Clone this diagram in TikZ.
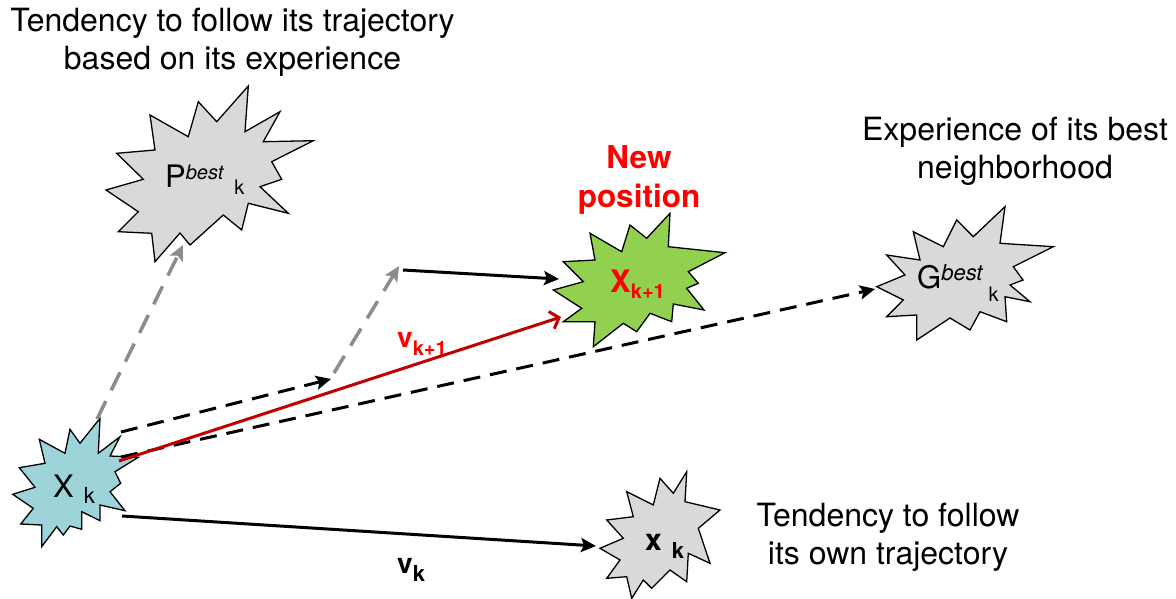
\documentclass[tikz,border=0pt]{standalone}
\usepackage{fontspec}
\setmainfont{TeX Gyre Heros}
\usetikzlibrary{arrows.meta}
\definecolor{sealgray}{HTML}{D9D9D9}
\definecolor{sealcyan}{HTML}{9DD4DA}
\definecolor{sealgreen}{HTML}{92D050}
\definecolor{darkred}{HTML}{C00000}
\definecolor{arrowgray}{HTML}{8C8C8C}
\newcommand{\fs}[1]{\fontsize{#1}{#1}\selectfont}
\begin{document}
\begin{tikzpicture}[x=1pt,y=-1pt,
  seal/.style={draw=black, line width=1.3pt, line join=miter, miter limit=20},
  caption/.style={align=center, inner sep=0pt, font=\fontsize{32}{38}\selectfont},
  lbl/.style={anchor=base west, inner sep=0pt},
  blackarrow/.style={draw=black, line width=3pt, -{Stealth[length=15pt,width=14pt,inset=3pt]}},
  blackdash/.style={blackarrow, dash pattern=on 17pt off 10pt},
  graydash/.style={draw=arrowgray, line width=3.5pt, dash pattern=on 20pt off 12pt, -{Stealth[length=15pt,width=14pt,inset=3pt]}},
  redarrow/.style={draw=darkred, line width=3pt, -{Straight Barb[length=8pt,width=18pt]}}]
\useasboundingbox (0,0) rectangle (1176,599);

% ---- starbursts ----
% X_k (cyan)
\draw[seal, fill=sealcyan] (100,418.3)--(98.3,453.3)--(120,436.7)--(110,456)--(138.3,457.3)--(115,471.7)--(120.7,483.3)--(110,491.7)--(125,510.7)--(100,505)--(100,520.7)--(81.7,511.7)--(81.7,529.3)--(70,526)--(63.3,535)--(56.7,526.7)--(41.7,546.7)--(41.7,525)--(20.7,524)--(33.3,508.3)--(12.7,494.3)--(35,487.3)--(19.3,467.7)--(45,463.3)--(39.3,439.3)--(65,453.3)--(70,429.3)--(80,443.3)--cycle;
% P best
\draw[seal, fill=sealgray] (248.3,86)--(245,131.7)--(280,111.7)--(263.3,141.7)--(313.3,140.7)--(271.7,161.7)--(281.7,179.3)--(260,186.7)--(288.3,213.3)--(248.3,203.3)--(241.7,230)--(223.3,215)--(190,245)--(180,233)--(155,261.7)--(151.7,233.3)--(118.3,231.7)--(138.3,211.7)--(106,190)--(143.3,179.3)--(116.7,153.3)--(155,150)--(150,115)--(188.3,136.7)--(198.3,101.7)--(216.7,121.7)--cycle;
% X_{k+1} (green)
\draw[seal, fill=sealgreen] (670,213.3)--(668.3,246.7)--(725,252.7)--(688.3,271.7)--(698.3,283.3)--(686.7,288.3)--(704,310)--(673.3,304)--(671.7,321.7)--(650,313.3)--(636.7,331.7)--(623.3,323.3)--(593.3,346.7)--(595,321.7)--(563.3,321.7)--(581.7,308.3)--(553.3,290)--(583.3,281.7)--(563.3,261.7)--(595,260)--(590,233.3)--(621.7,251.7)--(630,225)--(646.7,238.3)--cycle;
% G best
\draw[seal, fill=sealgray] (1005,206.7)--(1000,243.3)--(1053.3,246.7)--(1013.3,266.7)--(1023,280)--(1010,285)--(1030,301.7)--(1005,296.7)--(1006.7,321.7)--(980,311.7)--(970,330)--(950,318)--(916.7,340)--(916.7,315)--(886.7,316.7)--(903.3,300)--(876.7,286.7)--(905,275)--(886.7,255)--(920,260)--(913.3,231.7)--(943.3,246.7)--(956.7,220)--(973.3,236.7)--cycle;
% x_k (bottom)
\draw[seal, fill=sealgray] (686.7,471.7)--(685,501.7)--(720,510)--(698.3,528.3)--(710,563.3)--(688.3,553.3)--(686.7,581.7)--(670,570)--(651.7,588.3)--(643.3,580)--(631.7,598.3)--(626.7,576.7)--(606.7,578.3)--(620,560)--(600,548.3)--(623.3,538.3)--(606.7,520)--(633.3,516.7)--(626.7,491.7)--(653.3,505)--(660,478.3)--(673.3,493.3)--cycle;

% ---- labels inside starbursts ----
\node[lbl] (xk) at (53,497) {\fs{31}X\hspace{10pt}\raisebox{-6pt}{\fs{22}k}};
\node[lbl] (pbest) at (165,188) {\fs{31}P\raisebox{8pt}{\fs{20}\itshape best}\hspace{11pt}\raisebox{-7pt}{\fs{20}k}};
\node[lbl, text=red] (xk1) at (610,292) {\fs{31}\bfseries X\raisebox{-6pt}{\fs{20}\bfseries k+1}};
\node[lbl] (gbest) at (917,288) {\fs{31}G\raisebox{8pt}{\fs{22}\itshape best}\hspace{6pt}\raisebox{-13pt}{\fs{20}k}};
\node[lbl] (xkk) at (645,550) {\fs{30}\bfseries x\hspace{10pt}\raisebox{-8pt}{\fs{22}\bfseries k}};

% ---- captions ----
\node[caption] (t1) at (232.5,42) {Tendency to follow its trajectory\\based on its experience};
\node[caption] (t2) at (1015,151) {Experience of its best\\neighborhood};
\node[caption] (t3) at (888,537) {Tendency to follow\\its own trajectory};
\node[caption, text=red, font=\fontsize{31.5}{39}\bfseries] (t4) at (639,180) {New\\position};

% ---- connector end points ----
\coordinate (xk-top) at (97,419);
\coordinate (pb-bot) at (183,245);
\coordinate (xk-ne) at (121,432);
\coordinate (m1) at (331,379);
\coordinate (m1b) at (334,373);
\coordinate (m2) at (399,266);
\coordinate (m2b) at (403,270);
\coordinate (xk1-w) at (559,279);
\coordinate (xk-e) at (119,461);
\coordinate (xk1-sw) at (561,317);
\coordinate (xk-e2) at (121,457);
\coordinate (gb-w) at (875,289);
\coordinate (xk-se) at (122,516);
\coordinate (xkk-w) at (596,546);

% ---- connectors ----
\draw[graydash] (xk-top) -- (pb-bot);
\draw[blackdash] (xk-ne) -- (m1);
\draw[graydash] (m1b) -- (m2);
\draw[blackarrow] (m2b) -- (xk1-w);
\draw[blackdash] (xk-e2) -- (gb-w);
\draw[redarrow] (xk-e) -- (xk1-sw);
\draw[blackarrow] (xk-se) -- (xkk-w);

% ---- velocity labels ----
\node[lbl, text=red] (vk1) at (397,347) {\fs{28}\bfseries v\raisebox{-8pt}{\fs{20}\bfseries k+1}};
\node[lbl] (vk) at (397,573) {\fs{28}\bfseries v\raisebox{-8pt}{\fs{22}\bfseries k}};
\end{tikzpicture}
\end{document}
